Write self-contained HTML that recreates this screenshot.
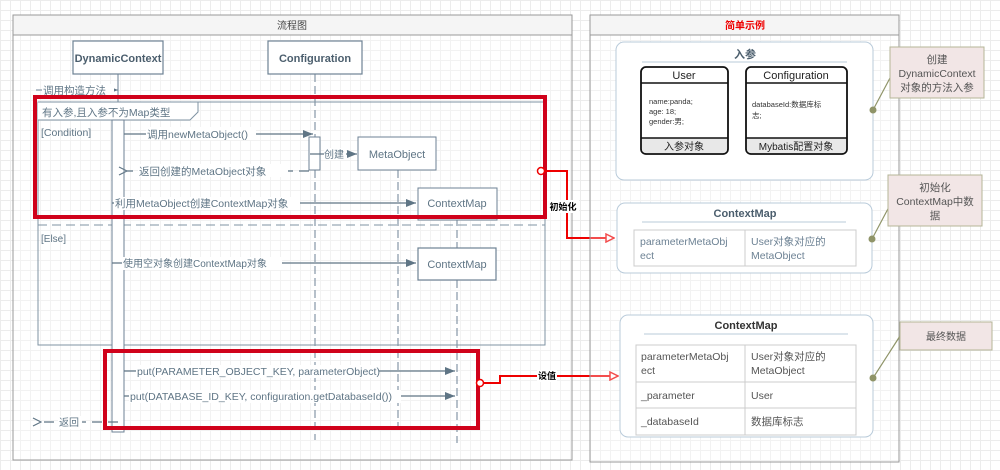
<!DOCTYPE html>
<html><head><meta charset="utf-8"><style>
html,body{margin:0;padding:0;}
body{width:1000px;height:470px;overflow:hidden;background-color:#fff;
background-image:linear-gradient(#ececec 1px,transparent 1px),linear-gradient(90deg,#ececec 1px,transparent 1px);
background-size:10px 10px;font-family:"Liberation Sans","Noto Sans CJK SC",sans-serif;}
svg{position:absolute;left:0;top:0;}
text{font-family:"Liberation Sans","Noto Sans CJK SC",sans-serif;}
</style></head><body>
<svg width="1000" height="470" viewBox="0 0 1000 470">
<defs>
<marker id="ah" markerWidth="10" markerHeight="8" refX="10" refY="4" orient="auto" markerUnits="userSpaceOnUse"><path d="M0,0 L10,4 L0,8 Z" fill="#5f7585"/></marker>
<marker id="ao" markerWidth="10" markerHeight="10" refX="1" refY="5" orient="auto" markerUnits="userSpaceOnUse"><path d="M9,1 L1,5 L9,9" fill="none" stroke="#5f7585" stroke-width="1.2"/></marker>
<marker id="ar" markerWidth="10" markerHeight="10" refX="9" refY="5" orient="auto" markerUnits="userSpaceOnUse"><path d="M1,1 L9,5 L1,9 Z" fill="#fff" stroke="#e00" stroke-width="1.5"/></marker>
</defs>
<!-- left panel -->
<rect x="13" y="15" width="559" height="445" fill="#fff" fill-opacity="0.3" stroke="#999"/>
<rect x="13" y="15" width="559" height="20" fill="#f5f5f5" stroke="#999"/>
<text x="292" y="29" font-size="10" text-anchor="middle" fill="#444">流程图</text>
<!-- lifeline boxes -->
<rect x="73" y="41" width="90" height="33" fill="#fff" stroke="#6d8294" stroke-width="1.2"/>
<text x="118" y="62" font-size="11" font-weight="bold" text-anchor="middle" fill="#4b5e6d">DynamicContext</text>
<rect x="268" y="41" width="94" height="33" fill="#fff" stroke="#6d8294" stroke-width="1.2"/>
<text x="315" y="62" font-size="11" font-weight="bold" text-anchor="middle" fill="#4b5e6d">Configuration</text>
<line x1="118" y1="74" x2="118" y2="120" stroke="#6d8294"/>
<line x1="315" y1="74" x2="315" y2="440" stroke="#6d8294" stroke-dasharray="8,4"/>
<line x1="398" y1="170" x2="398" y2="432" stroke="#6d8294" stroke-dasharray="8,4"/>
<line x1="457" y1="218" x2="457" y2="248" stroke="#6d8294" stroke-dasharray="8,4"/>
<line x1="457" y1="280" x2="457" y2="443" stroke="#6d8294" stroke-dasharray="8,4"/>
<!-- 调用构造方法 -->
<line x1="36" y1="90" x2="118" y2="90" stroke="#6d8294" marker-end="url(#ah)"/>
<rect x="42" y="84" width="72" height="12" fill="#fff"/>
<text x="43" y="94" font-size="10.5" fill="#5f7585">调用构造方法</text>
<!-- frame -->
<rect x="38" y="102" width="507" height="243" fill="none" stroke="#7f93a3"/>
<path d="M38,102 H198 V112 L190,120 H38" fill="#fff" stroke="#7f93a3"/>
<text x="42" y="116" font-size="10.5" fill="#5f7585">有入参,且入参不为Map类型</text>
<text x="41" y="136" font-size="10.5" fill="#5f7585">[Condition]</text>
<line x1="38" y1="225" x2="545" y2="225" stroke="#7f93a3" stroke-dasharray="9,5"/>
<text x="41" y="242" font-size="10" fill="#5f7585">[Else]</text>
<!-- activation -->
<rect x="112" y="120" width="12" height="312" fill="#fff" stroke="#6d8294"/>
<!-- newMetaObject -->
<line x1="124" y1="134" x2="313" y2="134" stroke="#5f7585" stroke-width="1.2" marker-end="url(#ah)"/>
<rect x="146" y="127" width="110" height="13" fill="#fff"/>
<text x="147" y="138" font-size="10.5" fill="#5f7585">调用newMetaObject()</text>
<rect x="309" y="137" width="11" height="33" fill="#fff" stroke="#6d8294"/>
<line x1="310" y1="154" x2="357" y2="154" stroke="#5f7585" stroke-width="1.2" marker-end="url(#ah)"/>
<rect x="324" y="148" width="22" height="12" fill="#fff"/>
<text x="324" y="158" font-size="10" fill="#5f7585">创建</text>
<rect x="358" y="137" width="78" height="33" fill="#fff" stroke="#6d8294"/>
<text x="397" y="158" font-size="11" text-anchor="middle" fill="#5f7585">MetaObject</text>
<line x1="309" y1="171" x2="127" y2="171" stroke="#5f7585" stroke-width="1.2" stroke-dasharray="10,6" marker-end="url(#ao)"/>
<rect x="138" y="164" width="150" height="13" fill="#fff"/>
<text x="139" y="175" font-size="10.5" fill="#5f7585">返回创建的MetaObject对象</text>
<!-- ContextMap 1 -->
<line x1="112" y1="203" x2="416" y2="203" stroke="#5f7585" stroke-width="1.2" marker-end="url(#ah)"/>
<rect x="114" y="197" width="186" height="13" fill="#fff"/>
<text x="115" y="207" font-size="10.5" fill="#5f7585">利用MetaObject创建ContextMap对象</text>
<rect x="418" y="188" width="79" height="32" fill="#fff" stroke="#6d8294"/>
<text x="457" y="207" font-size="11" text-anchor="middle" fill="#5f7585">ContextMap</text>
<!-- else -->
<line x1="112" y1="263" x2="416" y2="263" stroke="#5f7585" stroke-width="1.2" marker-end="url(#ah)"/>
<rect x="122" y="257" width="160" height="13" fill="#fff"/>
<text x="123" y="267" font-size="10" fill="#5f7585">使用空对象创建ContextMap对象</text>
<rect x="418" y="248" width="78" height="32" fill="#fff" stroke="#6d8294" stroke-width="1.2"/>
<text x="457" y="268" font-size="11" text-anchor="middle" fill="#5f7585">ContextMap</text>
<!-- puts -->
<line x1="124" y1="371" x2="455" y2="371" stroke="#5f7585" stroke-width="1.2" marker-end="url(#ah)"/>
<rect x="136" y="365" width="243" height="13" fill="#fff"/>
<text x="137" y="375" font-size="10.5" fill="#5f7585">put(PARAMETER_OBJECT_KEY, parameterObject)</text>
<line x1="124" y1="396" x2="455" y2="396" stroke="#5f7585" stroke-width="1.2" marker-end="url(#ah)"/>
<rect x="129" y="390" width="272" height="13" fill="#fff"/>
<text x="130" y="400" font-size="10.5" fill="#5f7585">put(DATABASE_ID_KEY, configuration.getDatabaseId())</text>
<line x1="118" y1="422" x2="41" y2="422" stroke="#5f7585" stroke-width="1.2" stroke-dasharray="10,6" marker-end="url(#ao)"/>
<rect x="58" y="416" width="24" height="13" fill="#fff"/>
<text x="59" y="426" font-size="10" fill="#5f7585">返回</text>
<!-- red boxes -->
<rect x="35" y="97" width="510" height="120" fill="none" stroke="#d0021b" stroke-width="4"/>
<rect x="105" y="351" width="373" height="77" fill="none" stroke="#d0021b" stroke-width="4"/>
<path d="M543,171 H567 V238 H614" fill="none" stroke="#e00" stroke-width="2" marker-end="url(#ar)"/>
<circle cx="541" cy="171" r="3.5" fill="#fff" stroke="#e00" stroke-width="1.5"/>
<rect x="547" y="200" width="32" height="13" fill="#fff"/>
<text x="563" y="210" font-size="9" font-weight="bold" text-anchor="middle" fill="#000">初始化</text>
<path d="M482,383 H500 V376 H618" fill="none" stroke="#e00" stroke-width="2" marker-end="url(#ar)"/>
<circle cx="480" cy="383" r="3.5" fill="#fff" stroke="#e00" stroke-width="1.5"/>
<rect x="537" y="370" width="20" height="12" fill="#fff"/>
<text x="547" y="379" font-size="9" font-weight="bold" text-anchor="middle" fill="#000">设值</text>
<!-- right panel -->
<rect x="590" y="15" width="309" height="447" fill="#fff" fill-opacity="0.3" stroke="#999"/>
<rect x="590" y="15" width="309" height="20" fill="#f5f5f5" stroke="#999"/>
<text x="745" y="29" font-size="10" font-weight="bold" text-anchor="middle" fill="#e00">简单示例</text>
<!-- 入参 group -->
<rect x="616" y="42" width="257" height="138" rx="8" fill="#fff" stroke="#b9cbda"/>
<text x="745" y="58" font-size="11" font-weight="bold" text-anchor="middle" fill="#4b5e6d">入参</text>
<line x1="642" y1="62" x2="847" y2="62" stroke="#b9cbda"/>
<rect x="641" y="67" width="87" height="87" rx="5" fill="#fff" stroke="#111" stroke-width="1.8"/>
<path d="M642,138 H727 V149 Q727,153 723,153 H646 Q642,153 642,149 Z" fill="#e8e8e8"/>
<line x1="641" y1="83" x2="728" y2="83" stroke="#111" stroke-width="1.5"/>
<line x1="641" y1="138" x2="728" y2="138" stroke="#111" stroke-width="1.5"/>
<text x="684" y="79" font-size="11" text-anchor="middle" fill="#222">User</text>
<text x="649" y="104" font-size="7.5" fill="#333">name:panda;</text>
<text x="649" y="114" font-size="7.5" fill="#333">age: 18;</text>
<text x="649" y="124" font-size="7.5" fill="#333">gender:男;</text>
<text x="684" y="150" font-size="10" text-anchor="middle" fill="#222">入参对象</text>
<rect x="746" y="67" width="101" height="87" rx="5" fill="#fff" stroke="#111" stroke-width="1.8"/>
<path d="M747,138 H846 V149 Q846,153 842,153 H751 Q747,153 747,149 Z" fill="#e8e8e8"/>
<line x1="746" y1="83" x2="847" y2="83" stroke="#111" stroke-width="1.5"/>
<line x1="746" y1="138" x2="847" y2="138" stroke="#111" stroke-width="1.5"/>
<text x="796" y="79" font-size="11" text-anchor="middle" fill="#222">Configuration</text>
<text x="752" y="107" font-size="7.5" fill="#333">databaseId:数据库标</text>
<text x="752" y="118" font-size="7.5" fill="#333">志;</text>
<text x="796" y="150" font-size="10" text-anchor="middle" fill="#222">Mybatis配置对象</text>
<!-- ContextMap group 1 -->
<rect x="617" y="203" width="255" height="70" rx="8" fill="#fff" stroke="#b9cbda"/>
<text x="745" y="217" font-size="11" font-weight="bold" text-anchor="middle" fill="#4b5e6d">ContextMap</text>
<line x1="642" y1="222" x2="846" y2="222" stroke="#b9cbda"/>
<rect x="634" y="230" width="222" height="36" fill="#fff" stroke="#ccc"/>
<line x1="745" y1="230" x2="745" y2="266" stroke="#ccc"/>
<text x="640" y="245" font-size="10.5" fill="#6d8294">parameterMetaObj</text>
<text x="640" y="259" font-size="10.5" fill="#6d8294">ect</text>
<text x="751" y="245" font-size="10.5" fill="#6d8294">User对象对应的</text>
<text x="751" y="259" font-size="10.5" fill="#6d8294">MetaObject</text>
<!-- ContextMap group 2 -->
<rect x="620" y="315" width="253" height="122" rx="8" fill="#fff" stroke="#b9cbda"/>
<text x="746" y="329" font-size="11" font-weight="bold" text-anchor="middle" fill="#333">ContextMap</text>
<line x1="644" y1="334" x2="848" y2="334" stroke="#b9cbda"/>
<rect x="636" y="345" width="220" height="90" fill="#fff" stroke="#ccc"/>
<line x1="745" y1="345" x2="745" y2="435" stroke="#ccc"/>
<line x1="636" y1="382" x2="856" y2="382" stroke="#ccc"/>
<line x1="636" y1="408" x2="856" y2="408" stroke="#ccc"/>
<text x="641" y="360" font-size="10.5" fill="#555">parameterMetaObj</text>
<text x="641" y="374" font-size="10.5" fill="#555">ect</text>
<text x="751" y="360" font-size="10.5" fill="#555">User对象对应的</text>
<text x="751" y="374" font-size="10.5" fill="#555">MetaObject</text>
<text x="641" y="399" font-size="10.5" fill="#555">_parameter</text>
<text x="751" y="399" font-size="10.5" fill="#555">User</text>
<text x="641" y="425" font-size="10.5" fill="#555">_databaseId</text>
<text x="751" y="425" font-size="10.5" fill="#555">数据库标志</text>
<!-- notes -->
<line x1="873" y1="110" x2="890" y2="78" stroke="#8f9468" stroke-width="1.2"/>
<circle cx="873" cy="110" r="3.5" fill="#8f9468"/>
<rect x="890" y="47" width="94" height="51" fill="#f2e6e6" stroke="#b5b597"/>
<text x="937" y="63" font-size="10.5" text-anchor="middle" fill="#555">创建</text>
<text x="937" y="77" font-size="10.5" text-anchor="middle" fill="#555">DynamicContext</text>
<text x="937" y="91" font-size="10.5" text-anchor="middle" fill="#555">对象的方法入参</text>
<line x1="872" y1="239" x2="890" y2="205" stroke="#8f9468" stroke-width="1.2"/>
<circle cx="872" cy="239" r="3.5" fill="#8f9468"/>
<rect x="888" y="175" width="94" height="51" fill="#f2e6e6" stroke="#b5b597"/>
<text x="935" y="191" font-size="10.5" text-anchor="middle" fill="#555">初始化</text>
<text x="935" y="205" font-size="10.5" text-anchor="middle" fill="#555">ContextMap中数</text>
<text x="935" y="219" font-size="10.5" text-anchor="middle" fill="#555">据</text>
<line x1="873" y1="378" x2="900" y2="336" stroke="#8f9468" stroke-width="1.2"/>
<circle cx="873" cy="378" r="3.5" fill="#8f9468"/>
<rect x="900" y="322" width="92" height="28" fill="#f2e6e6" stroke="#b5b597"/>
<text x="946" y="340" font-size="10" text-anchor="middle" fill="#555">最终数据</text>
</svg>
</body></html>
